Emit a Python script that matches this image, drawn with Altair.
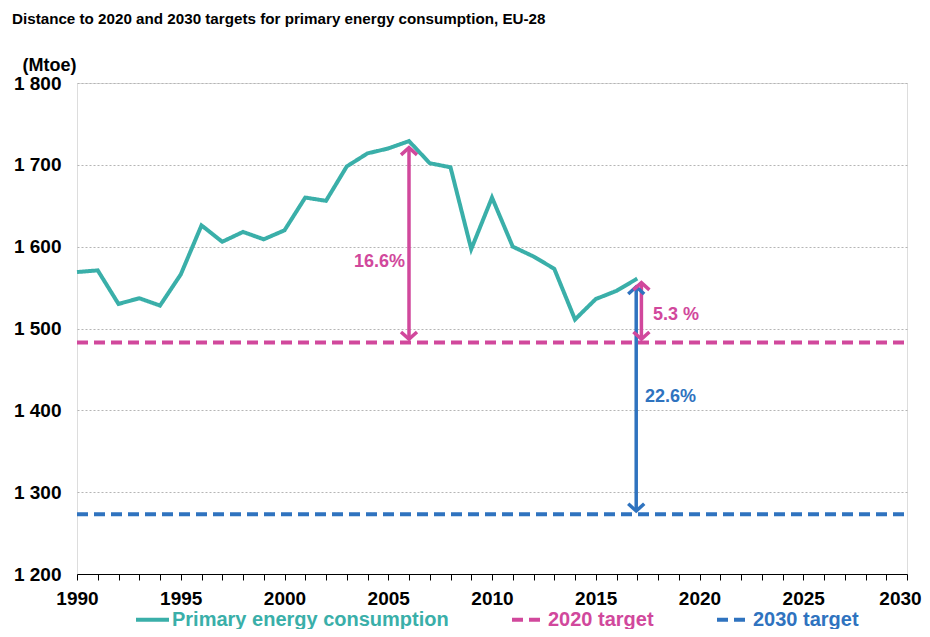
import altair as alt
import pandas as pd

# ---------------- data ----------------
years = list(range(1990, 2018))
consumption = [1569, 1571, 1530, 1537, 1528, 1566, 1626, 1606, 1618, 1609,
               1620, 1660, 1656, 1698, 1714, 1720, 1729, 1702, 1697, 1597,
               1660, 1600, 1588, 1573, 1511, 1536, 1546, 1561]

target_years = [1990, 2030]
target_2020 = 1483
target_2030 = 1273

series_names = ["Primary energy consumption", "2020 target", "2030 target"]
series_colors = ["#3AAFA9", "#D1489C", "#2F73BF"]

arrow_x = [2006, 2016.95, 2017.2]
arrow_top = [1721, 1551, 1556]
arrow_bottom = [1487, 1277, 1487]
arrow_colors = ["#D1489C", "#2F73BF", "#D1489C"]

label_text = ["16.6%", "5.3 %", "22.6%"]
label_x = [2003.35, 2017.76, 2017.37]
label_y = [1581, 1516, 1416]
label_colors = ["#D1489C", "#D1489C", "#2F73BF"]

y_ticks = [1200, 1300, 1400, 1500, 1600, 1700, 1800]
x_ticks = list(range(1990, 2031))

FONT = "Liberation Sans"

# ---------------- tables ----------------
rows = [{"year": y, "value": v, "series": series_names[0]} for y, v in zip(years, consumption)]
rows += [{"year": y, "value": target_2020, "series": series_names[1]} for y in target_years]
rows += [{"year": y, "value": target_2030, "series": series_names[2]} for y in target_years]
lines_df = pd.DataFrame(rows)

arrows_df = pd.DataFrame({"x": arrow_x, "top": arrow_top, "bottom": arrow_bottom, "color": arrow_colors})
UP = "M-1,0.9L0,0L1,0.9"
DOWN = "M-1,-0.9L0,0L1,-0.9"
heads_df = pd.DataFrame(
    [{"x": x, "v": t, "color": c, "shape": UP} for x, t, c in zip(arrow_x, arrow_top, arrow_colors)]
    + [{"x": x, "v": b, "color": c, "shape": DOWN} for x, b, c in zip(arrow_x, arrow_bottom, arrow_colors)]
)
labels_df = pd.DataFrame({"x": label_x, "y": label_y, "text": label_text, "color": label_colors})

# ---------------- scales / axes ----------------
xscale = alt.Scale(domain=[1990, 2030], nice=False, zero=False)
yscale = alt.Scale(domain=[1200, 1800], nice=False, zero=False)

x_axis = alt.Axis(
    values=x_ticks, format="d",
    labelExpr="datum.value % 5 == 0 ? datum.label : ''",
    grid=False, tickSize=6, tickColor="black", domainColor="black",
    tickWidth=1, domainWidth=1,
    labelFontSize=19, labelFont=FONT, labelFontWeight="bold", labelColor="black",
    labelPadding=9, labelOverlap=False, labelFlush=False, title=None,
    labelOffset={"condition": {"test": "datum.value == 2030", "value": -7}, "value": 0},
)
y_axis = alt.Axis(
    values=y_ticks,
    labelExpr="replace(format(datum.value, ','), ',', ' ')",
    domain=False, ticks=False, grid=True, gridDash=[2, 2], gridColor="#b5b5b5", gridWidth=1,
    labelPadding=16, labelFontSize=19, labelFont=FONT, labelFontWeight="bold", labelColor="black",
    labelBaseline="middle",
    title="(Mtoe)", titleAngle=0, titleX=-55, titleY=-13, titleAlign="left",
    titleBaseline="alphabetic", titleFontSize=18, titleFont=FONT, titleFontWeight="bold",
    titleColor="black",
)


def X(field):
    return alt.X(field, scale=xscale, axis=x_axis)


def Y(field):
    return alt.Y(field, scale=yscale, axis=y_axis)


legend = alt.Legend(
    title=None, orient="none", legendX=57, legendY=518, direction="horizontal",
    symbolType="stroke", symbolSize=1089, symbolStrokeWidth=4,
    labelFontSize=20, labelFont=FONT, labelFontWeight="bold",
    labelColor={"expr": "datum.label == 'Primary energy consumption' ? '#3AAFA9' : (datum.label == '2020 target' ? '#D1489C' : '#2F73BF')"},
    labelOffset=1, columnPadding=55, labelLimit=400,
)

base_lines = alt.Chart(lines_df).mark_line(strokeWidth=4).encode(
    x=X("year:Q"),
    y=Y("value:Q"),
    color=alt.Color("series:N", scale=alt.Scale(domain=series_names, range=series_colors), legend=legend),
    strokeDash=alt.StrokeDash("series:N", scale=alt.Scale(domain=series_names, range=[[1, 0], [11, 6], [11, 6]]), legend=legend),
)

shafts = alt.Chart(arrows_df).mark_rule(strokeWidth=3.5).encode(
    x=X("x:Q"),
    y=Y("top:Q"),
    y2="bottom:Q",
    color=alt.Color("color:N", scale=None),
)

heads = alt.Chart(heads_df).mark_point(filled=False, strokeWidth=3.5, size=256, opacity=1).encode(
    x=X("x:Q"),
    y=Y("v:Q"),
    shape=alt.Shape("shape:N", scale=None),
    color=alt.Color("color:N", scale=None),
)

texts = alt.Chart(labels_df).mark_text(
    align="left", baseline="middle", font=FONT, fontSize=18, fontWeight="bold"
).encode(
    x=X("x:Q"),
    y=Y("y:Q"),
    text="text:N",
    color=alt.Color("color:N", scale=None),
)

chart = alt.layer(base_lines, shafts, heads, texts).properties(
    width=830, height=491,
    autosize=alt.AutoSizeParams(type="none"),
    padding={"left": 69, "top": 75, "right": 15, "bottom": 55},
    title=alt.TitleParams(
        text="Distance to 2020 and 2030 targets for primary energy consumption, EU-28",
        anchor="start", frame="group", dx=-65, offset=29,
        fontSize=15.2, font=FONT, fontWeight="bold", color="black",
    ),
).configure_view(stroke=None).configure(background="white")

chart.save("out.html", embed_options={"renderer": "svg", "actions": False})
